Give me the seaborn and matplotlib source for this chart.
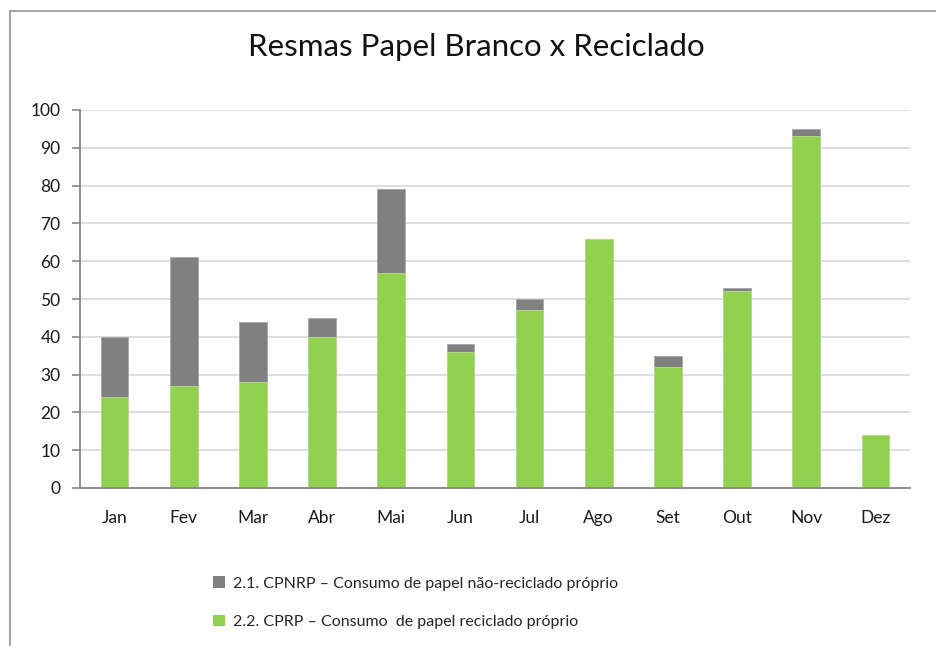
import numpy as np
import pandas as pd
import matplotlib
matplotlib.use("Agg")
import matplotlib.pyplot as plt
from matplotlib.lines import Line2D
from matplotlib.patches import Patch
import seaborn as sns

months = ["Jan", "Fev", "Mar", "Abr", "Mai", "Jun", "Jul", "Ago", "Set", "Out", "Nov", "Dez"]
reciclado = [24, 27, 28, 40, 57, 36, 47, 66, 32, 52, 93, 14]
nao_reciclado = [16, 34, 16, 5, 22, 2, 3, 0, 3, 1, 2, 0]
y_ticks = [0, 10, 20, 30, 40, 50, 60, 70, 80, 90, 100]

label_nr = "2.1. CPNRP \u2013 Consumo de papel n\u00e3o-reciclado pr\u00f3prio"
label_r = "2.2. CPRP \u2013 Consumo  de papel reciclado pr\u00f3prio"

GREEN = "#92D050"
GRAY = "#808080"
AXIS = "#868686"

sns.set_theme(style="white")
plt.rcParams["font.family"] = ["Lato", "DejaVu Sans"]

df = pd.DataFrame({"mes": months, "reciclado": reciclado, "nao": nao_reciclado})
df["total"] = df["reciclado"] + df["nao"]

fig = plt.figure(figsize=(9.36, 6.46), dpi=100)
ax = fig.add_axes([80 / 936, 1 - 488 / 646, 830 / 936, 378 / 646])

sns.barplot(data=df, x="mes", y="total", color=GRAY, width=0.4, saturation=1,
            edgecolor="#a6a6a6", linewidth=0.6, ax=ax)
sns.barplot(data=df, x="mes", y="reciclado", color=GREEN, width=0.4, saturation=1,
            edgecolor="#b8e08a", linewidth=0.6, ax=ax)

ax.set_xlim(-0.5, len(months) - 0.5)
ax.set_ylim(0, 100)
ax.set_yticks(y_ticks)
ax.set_xlabel("")
ax.set_ylabel("")
ax.yaxis.grid(True, color="#d9d9d9", linewidth=1.2)
ax.set_axisbelow(True)

for s in ["top", "right"]:
    ax.spines[s].set_visible(False)
for s in ["left", "bottom"]:
    ax.spines[s].set_color(AXIS)
    ax.spines[s].set_linewidth(1.3)

ax.set_xticks(np.arange(-0.5, len(months), 1.0), minor=True)
ax.tick_params(axis="x", which="major", length=0, pad=16, labelsize=12.5, colors="#1a1a1a")
ax.tick_params(axis="x", which="minor", length=6, width=1.2, color=AXIS, direction="out")
ax.tick_params(axis="y", length=6, width=1.2, color=AXIS, direction="out", pad=8,
               labelsize=12.5, labelcolor="#1a1a1a")
ax.tick_params(left=True, bottom=True)

fig.text(476 / 936, 1 - 47 / 646, "Resmas Papel Branco x Reciclado", ha="center", va="center",
         fontsize=22.5, color="#111111")

handles = [Patch(facecolor=GRAY, edgecolor="none"), Patch(facecolor=GREEN, edgecolor="none")]
fig.legend(handles, [label_nr, label_r], loc="upper left",
           bbox_to_anchor=(199 / 936, 1 - 562 / 646), frameon=False, fontsize=11.5,
           handlelength=0.7, handleheight=0.7, handletextpad=0.5, labelspacing=1.55)

# outer chart frame (top and left edges visible)
fig.add_artist(Line2D([10 / 936, 1], [1 - 11 / 646, 1 - 11 / 646], color="#a6a6a6", lw=1.5,
                      transform=fig.transFigure))
fig.add_artist(Line2D([10 / 936, 10 / 936], [0, 1 - 11 / 646], color="#a6a6a6", lw=1.5,
                      transform=fig.transFigure))

fig.savefig("out.png", dpi=100)
